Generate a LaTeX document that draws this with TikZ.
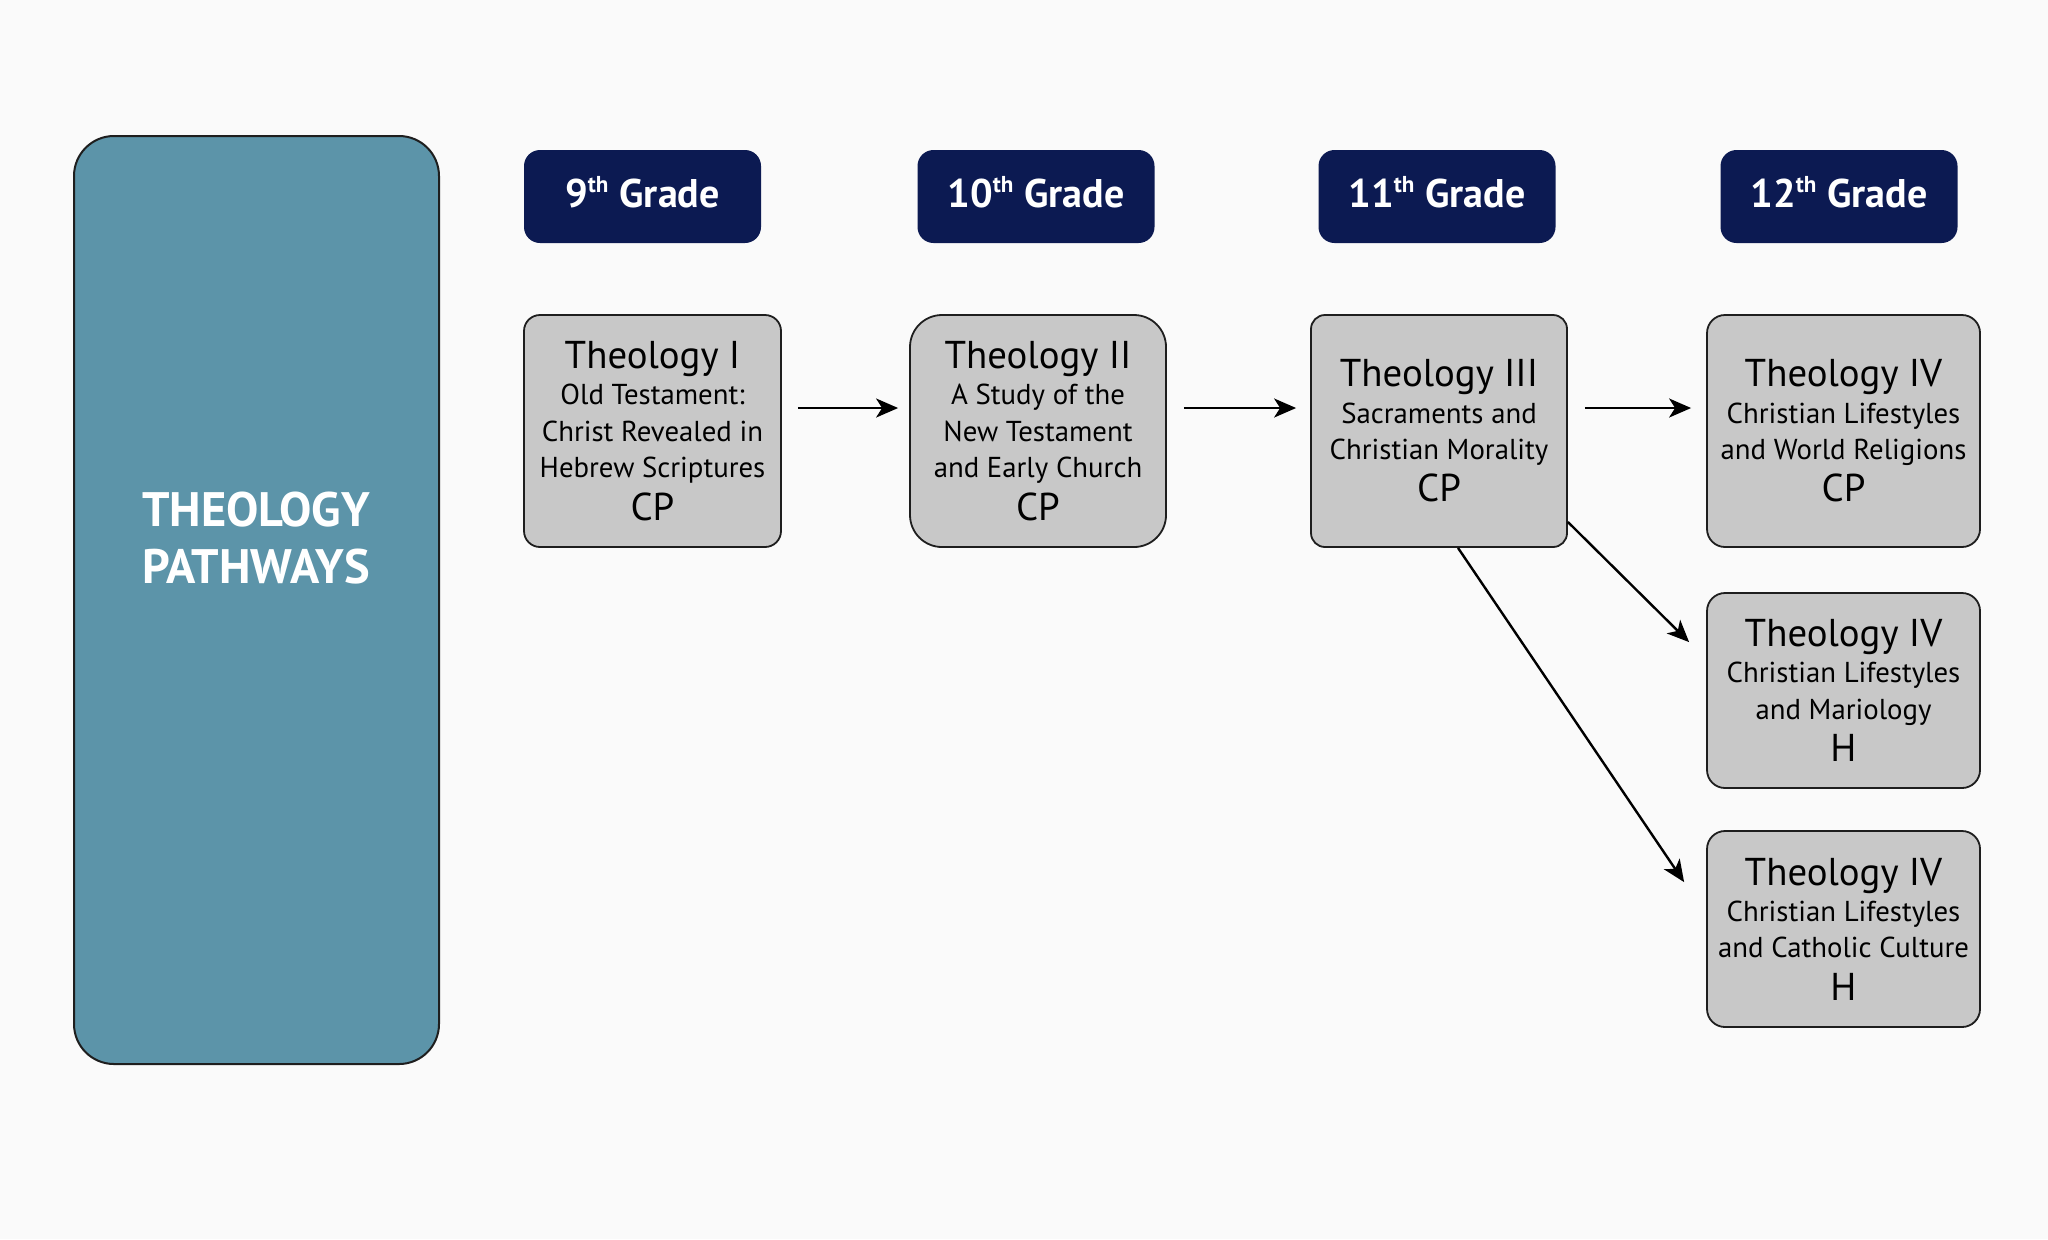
\documentclass[tikz,border=0pt]{standalone}
\usepackage{fontspec}
\setmainfont{PT Sans}
\usetikzlibrary{arrows.meta,calc}
\definecolor{bgc}{HTML}{FAFAFA}
\definecolor{teal}{HTML}{5C94A9}
\definecolor{navy}{HTML}{0C1A52}
\definecolor{boxgray}{HTML}{C8C8C8}
\definecolor{edge}{HTML}{1E1E1E}
\tikzset{
  sidebox/.style={draw=edge, line width=1pt, fill=teal, rounded corners=20pt, inner sep=0pt},
  gradebox/.style={fill=navy, rounded corners=8pt, inner sep=0pt, minimum width=118.5pt, minimum height=46.5pt,
     text=white, font=\fontsize{20}{24}\selectfont\bfseries},
  course/.style={draw=edge, line width=0.9pt, fill=boxgray, inner sep=0pt, align=center,
     font=\fontsize{14.4}{18.2}\selectfont},
  flow/.style={line width=1.2pt, -{Stealth[length=11pt,width=9.5pt,inset=3pt]}},
}
\newcommand{\ttlfont}{\fontsize{19.4}{18.2}\selectfont}
\newcommand{\gsup}[1]{\textsuperscript{\fontsize{11.5}{11.5}\selectfont #1}}
\newcommand{\glabel}[1]{\raisebox{4.5pt}{#1}}
\begin{document}
\begin{tikzpicture}[x=0.5pt,y=-0.5pt]
\useasboundingbox[fill=bgc] (0,0) rectangle (2048,1239);

% side panel
\node[sidebox, minimum width=182.5pt, minimum height=464pt] (side) at (256.5,600) {};
\node[text=white, align=center, font=\fontsize{24.2}{28.5}\selectfont\bfseries] (sidetext) at (256,538) {THEOLOGY\\PATHWAYS};

% grade headers
\node[gradebox] (g9)  at (642.5,196.5) {\glabel{9\gsup{th} Grade}};
\node[gradebox] (g10) at (1036,196.5) {\glabel{10\gsup{th} Grade}};
\node[gradebox] (g11) at (1437,196.5) {\glabel{11\gsup{th} Grade}};
\node[gradebox] (g12) at (1839,196.5) {\glabel{12\gsup{th} Grade}};

% courses
\node[course, rounded corners=8pt, minimum width=128.5pt, minimum height=116pt] (t1) at (652.5,431)
  {{\ttlfont Theology I}\\Old Testament:\\Christ Revealed in\\Hebrew Scriptures\\[3pt]{\ttlfont CP}};
\node[course, rounded corners=16pt, minimum width=128pt, minimum height=116pt] (t2) at (1038,431)
  {{\ttlfont Theology II}\\A Study of the\\New Testament\\and Early Church\\[3pt]{\ttlfont CP}};
\node[course, rounded corners=7pt, minimum width=128pt, minimum height=116pt] (t3) at (1439,431)
  {{\ttlfont Theology III}\\Sacraments and\\Christian Morality\\[3pt]{\ttlfont CP}};
\node[course, rounded corners=9pt, minimum width=136.5pt, minimum height=116pt] (t4a) at (1843.5,431)
  {{\ttlfont Theology IV}\\Christian Lifestyles\\and World Religions\\[3pt]{\ttlfont CP}};
\node[course, rounded corners=9pt, minimum width=136.5pt, minimum height=97.5pt] (t4b) at (1843.5,690.5)
  {{\ttlfont Theology IV}\\Christian Lifestyles\\and Mariology\\[3pt]{\ttlfont H}};
\node[course, rounded corners=9pt, minimum width=136.5pt, minimum height=98pt] (t4c) at (1843.5,929)
  {{\ttlfont Theology IV}\\Christian Lifestyles\\and Catholic Culture\\[3pt]{\ttlfont H}};

% connectors
\draw[flow, shorten <=8pt, shorten >=5.5pt] ([yshift=11.5pt]t1.east) -- ([yshift=11.5pt]t2.west);
\draw[flow, shorten <=8.5pt, shorten >=7pt] ([yshift=11.5pt]t2.east) -- ([yshift=11.5pt]t3.west);
\draw[flow, shorten <=8.5pt, shorten >=7.5pt] ([yshift=11.5pt]t3.east) -- ([yshift=11.5pt]t4a.west);
\coordinate (e1) at ($(t4b.north west)+(-17,50)$);
\coordinate (e2) at ($(t4c.north west)+(-22,52)$);
\draw[flow] ([yshift=-45.5pt]t3.east) -- (e1);
\draw[flow] ([xshift=9.5pt]t3.south) -- (e2);
\end{tikzpicture}
\end{document}
